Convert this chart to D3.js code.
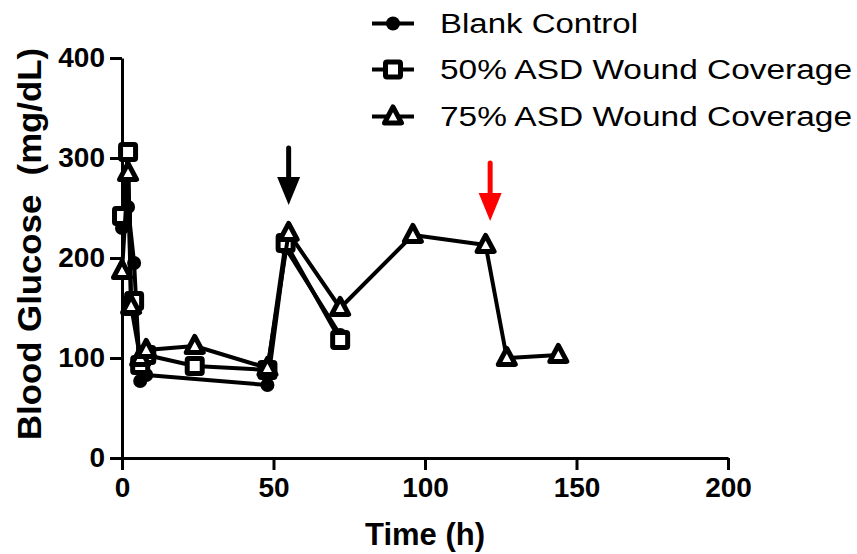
<!DOCTYPE html>
<html>
<head>
<meta charset="utf-8">
<script src="https://cdn.jsdelivr.net/npm/d3@7"></script>
<style>
  html, body { margin: 0; padding: 0; background: #fff; }
  svg { display: block; font-family: "Liberation Sans", Arial, sans-serif; }
</style>
</head>
<body>
<svg id="chart" width="857" height="554"></svg>
<script>
// Blood glucose over time for three wound-coverage groups
const seriesNames = ["Blank Control", "50% ASD Wound Coverage", "75% ASD Wound Coverage"];
const seriesMarkers = ["circle", "square", "triangle"];

const blankHours  = [0, 2, 4, 6, 8, 48, 54, 72];
const blankValues = [230, 251, 195, 77, 83, 73, 210, 123];

const asd50Hours  = [0, 2, 3, 4, 6, 8, 24, 48, 54, 72];
const asd50Values = [242, 306, 152, 157, 93, 103, 92, 88, 215, 118];

const asd75Hours  = [0, 2, 3, 6, 8, 24, 48, 55, 72, 96, 120, 127, 144];
const asd75Values = [187, 285, 152, 100, 108, 112, 90, 225, 150, 223, 213, 100, 103];

const xTicks = [0, 50, 100, 150, 200];
const yTicks = [0, 100, 200, 300, 400];

// Treatment markers: hour, value at the top of the shaft, value at the tip
const arrowHours  = [55, 121.5];
const arrowTops   = [310, 295];
const arrowTips   = [253, 237];
const arrowColors = ["#000", "#ff0000"];

const svg = d3.select("#chart");
const x = d3.scaleLinear().domain([0, 200]).range([122, 728]);
const y = d3.scaleLinear().domain([0, 400]).range([458, 58]);

// Axes
const xAxis = svg.append("g").attr("transform", `translate(0,${y(0)})`)
  .call(d3.axisBottom(x).tickValues(xTicks).tickSize(12).tickPadding(7).tickSizeOuter(0));
const yAxis = svg.append("g").attr("transform", `translate(${x(0)},0)`)
  .call(d3.axisLeft(y).tickValues(yTicks).tickSize(12).tickPadding(5).tickSizeOuter(0));
[xAxis, yAxis].forEach(g => {
  g.select(".domain").attr("stroke", "#000").attr("stroke-width", 3);
  g.selectAll(".tick line").attr("stroke", "#000").attr("stroke-width", 3);
  g.selectAll(".tick text").attr("fill", "#000")
    .style("font-family", "'Liberation Sans', Arial, sans-serif")
    .style("font-weight", "bold").style("font-size", "28px");
});
xAxis.selectAll(".tick text").attr("dy", "0.71em");

// Axis titles
svg.append("text").attr("x", x(100)).attr("y", 545).attr("text-anchor", "middle")
  .style("font-weight", "bold").style("font-size", "31px").text("Time (h)");
svg.append("text").attr("transform", `translate(41,244) rotate(-90)`)
  .attr("text-anchor", "middle").style("font-weight", "bold").style("font-size", "34px")
  .attr("textLength", 392).attr("lengthAdjust", "spacingAndGlyphs")
  .attr("xml:space", "preserve").text("Blood Glucose  (mg/dL)");

// Marker drawing
function drawMarker(g, kind, cx, cy) {
  if (kind === "circle") {
    g.append("circle").attr("cx", cx).attr("cy", cy).attr("r", 7).attr("fill", "#000");
  } else if (kind === "square") {
    g.append("rect").attr("x", cx - 7.5).attr("y", cy - 7.5).attr("width", 15).attr("height", 15)
      .attr("rx", 1.5).attr("fill", "#fff").attr("stroke", "#000").attr("stroke-width", 5);
  } else {
    const h = 16, w = 17;
    g.append("path")
      .attr("d", `M${cx},${cy - h * 0.6} L${cx + w / 2},${cy + h * 0.4} L${cx - w / 2},${cy + h * 0.4} Z`)
      .attr("fill", "#fff").attr("stroke", "#000").attr("stroke-width", 5)
      .attr("stroke-linejoin", "round");
  }
}

const series = [
  { hours: blankHours, values: blankValues },
  { hours: asd50Hours, values: asd50Values },
  { hours: asd75Hours, values: asd75Values }
];

const line = d3.line().x(d => x(d[0])).y(d => y(d[1]));
series.forEach((s, i) => {
  const pts = s.hours.map((h, k) => [h, s.values[k]]);
  const g = svg.append("g");
  g.append("path").attr("d", line(pts)).attr("fill", "none")
    .attr("stroke", "#000").attr("stroke-width", 4).attr("stroke-linejoin", "round");
  pts.forEach(p => drawMarker(g, seriesMarkers[i], x(p[0]), y(p[1])));
});

// Arrows
arrowHours.forEach((h, i) => {
  const ax = x(h), top = y(arrowTops[i]), tip = y(arrowTips[i]);
  const headLen = 28, headHalf = 11.5;
  const g = svg.append("g");
  g.append("line").attr("x1", ax).attr("x2", ax).attr("y1", top).attr("y2", tip - headLen + 2)
    .attr("stroke", arrowColors[i]).attr("stroke-width", 5).attr("stroke-linecap", "round");
  g.append("path")
    .attr("d", `M${ax - headHalf},${tip - headLen} L${ax + headHalf},${tip - headLen} L${ax},${tip} Z`)
    .attr("fill", arrowColors[i]);
});

// Legend
const legendRows = [23.5, 69.5, 116.5];
const legendWidths = [198, 412, 412];
seriesNames.forEach((name, i) => {
  const g = svg.append("g");
  const cy = legendRows[i];
  g.append("line").attr("x1", 372).attr("x2", 414).attr("y1", cy).attr("y2", cy)
    .attr("stroke", "#000").attr("stroke-width", 4);
  drawMarker(g, seriesMarkers[i], 393, cy);
  g.append("text").attr("x", 440).attr("y", cy + 9.8)
    .style("font-size", "27px").attr("fill", "#000")
    .attr("textLength", legendWidths[i]).attr("lengthAdjust", "spacingAndGlyphs")
    .text(name);
});
</script>
</body>
</html>
